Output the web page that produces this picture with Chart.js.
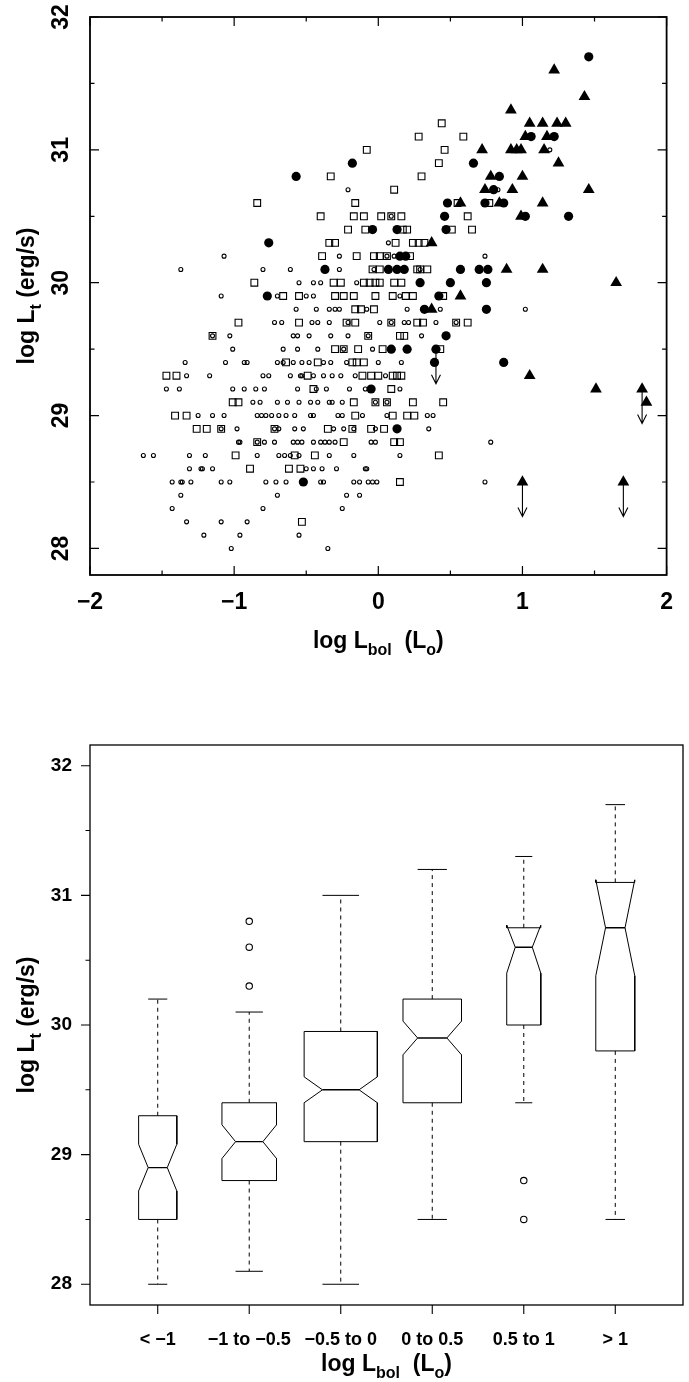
<!DOCTYPE html>
<html><head><meta charset="utf-8">
<script src="https://cdn.jsdelivr.net/npm/chart.js@4.4.1/dist/chart.umd.min.js"></script>
<style>
html,body{margin:0;padding:0;background:#fff;}
#wrap{position:relative;width:689px;height:1382px;overflow:hidden;background:#fff;}
canvas{position:absolute;left:0;display:block;}
</style></head><body>
<div id="wrap">
<canvas id="topc" width="689" height="690" style="top:0"></canvas>
<canvas id="botc" width="689" height="692" style="top:690px"></canvas>
</div>
<script>
const FAM = '"Liberation Sans", Arial, Helvetica, sans-serif';

// ---------- top panel: [log Lbol, log Lt] ----------
const openCircles = [
[1.19,31.0],[-0.21,30.7],[0.83,30.7],[0.09,30.5],[0.07,30.3],
[-1.07,30.2],[-0.27,30.2],[0.06,30.2],[0.11,30.2],[0.74,30.2],
[-1.37,30.1],[-0.80,30.1],[-0.61,30.1],[-0.27,30.1],[-0.03,30.1],[0.29,30.1],
[-0.55,30.0],[-0.45,30.0],[-0.40,30.0],[-0.15,30.0],
[-1.09,29.9],[-0.70,29.9],[-0.50,29.9],[-0.45,29.9],[0.15,29.9],
[-0.57,29.8],[-0.43,29.8],[-0.34,29.8],[-0.30,29.8],[-0.27,29.8],[-0.08,29.8],[0.20,29.8],[0.43,29.8],[1.02,29.8],
[-0.72,29.7],[-0.67,29.7],[-0.46,29.7],[-0.42,29.7],[-0.34,29.7],[-0.21,29.7],[0.01,29.7],[0.09,29.7],[0.18,29.7],[0.21,29.7],[0.40,29.7],[0.54,29.7],
[-1.15,29.6],[-1.03,29.6],[-0.59,29.6],[-0.56,29.6],[-0.48,29.6],[-0.33,29.6],[-0.21,29.6],[-0.07,29.6],[0.30,29.6],
[-1.01,29.5],[-0.66,29.5],[-0.56,29.5],[-0.42,29.5],[-0.24,29.5],[-0.04,29.5],
[-1.34,29.4],[-1.06,29.4],[-0.93,29.4],[-0.91,29.4],[-0.70,29.4],[-0.66,29.4],[-0.59,29.4],[-0.53,29.4],[-0.48,29.4],[-0.38,29.4],[-0.33,29.4],[-0.22,29.4],[0.00,29.4],[0.16,29.4],
[-1.33,29.3],[-1.17,29.3],[-0.80,29.3],[-0.76,29.3],[-0.61,29.3],[-0.54,29.3],[-0.53,29.3],[-0.45,29.3],[-0.38,29.3],[-0.32,29.3],[-0.26,29.3],[-0.16,29.3],[0.05,29.3],
[-1.47,29.2],[-1.38,29.2],[-1.01,29.2],[-0.93,29.2],[-0.85,29.2],[-0.79,29.2],[-0.56,29.2],[-0.43,29.2],[-0.36,29.2],[-0.20,29.2],[-0.09,29.2],[0.15,29.2],
[-0.87,29.1],[-0.82,29.1],[-0.70,29.1],[-0.63,29.1],[-0.55,29.1],[-0.47,29.1],[-0.42,29.1],[-0.34,29.1],[-0.32,29.1],[-0.25,29.1],[-0.02,29.1],[0.06,29.1],
[-1.25,29.0],[-1.15,29.0],[-1.07,29.0],[-0.84,29.0],[-0.81,29.0],[-0.78,29.0],[-0.74,29.0],[-0.69,29.0],[-0.64,29.0],[-0.58,29.0],[-0.47,29.0],[-0.45,29.0],[-0.28,29.0],[-0.25,29.0],[-0.11,29.0],[0.06,29.0],[0.34,29.0],[0.38,29.0],
[-1.09,28.9],[-0.98,28.9],[-0.72,28.9],[-0.69,28.9],[-0.58,28.9],[-0.52,28.9],[-0.31,28.9],[-0.24,28.9],[-0.17,28.9],[-0.02,28.9],[0.35,28.9],
[-0.97,28.8],[-0.96,28.8],[-0.84,28.8],[-0.79,28.8],[-0.72,28.8],[-0.59,28.8],[-0.56,28.8],[-0.53,28.8],[-0.45,28.8],[-0.40,28.8],[-0.37,28.8],[-0.34,28.8],[-0.30,28.8],[-0.05,28.8],[-0.02,28.8],[0.78,28.8],
[-1.63,28.7],[-1.56,28.7],[-1.31,28.7],[-1.20,28.7],[-0.84,28.7],[-0.69,28.7],[-0.65,28.7],[-0.61,28.7],[-0.55,28.7],[-0.34,28.7],[-0.17,28.7],[0.15,28.7],
[-1.31,28.6],[-1.23,28.6],[-1.22,28.6],[-1.15,28.6],[-0.50,28.6],[-0.45,28.6],[-0.39,28.6],[-0.29,28.6],[-0.09,28.6],[-0.08,28.6],
[-1.43,28.5],[-1.37,28.5],[-1.36,28.5],[-1.30,28.5],[-1.09,28.5],[-1.03,28.5],[-0.78,28.5],[-0.71,28.5],[-0.64,28.5],[-0.40,28.5],[-0.38,28.5],[-0.17,28.5],[-0.13,28.5],[-0.07,28.5],[-0.04,28.5],[-0.01,28.5],[0.74,28.5],
[-1.37,28.4],[-0.70,28.4],[-0.22,28.4],[-0.13,28.4],
[-1.43,28.3],[-0.80,28.3],[-0.25,28.3],
[-1.33,28.2],[-1.09,28.2],[-0.91,28.2],
[-1.21,28.1],[-0.96,28.1],[-0.55,28.1],
[-1.02,28.0],[-0.35,28.0]
];
const openSquares = [
[0.44,31.2],[0.28,31.1],[0.59,31.1],[-0.08,31.0],[0.46,31.0],[0.42,30.9],[-0.33,30.8],[0.30,30.8],[0.11,30.7],
[-0.84,30.6],[-0.16,30.6],[0.55,30.6],[0.77,30.6],
[-0.40,30.5],[-0.17,30.5],[-0.10,30.5],[0.02,30.5],[0.09,30.5],[0.16,30.5],[0.62,30.5],
[-0.21,30.4],[-0.09,30.4],[0.17,30.4],[0.20,30.4],[0.51,30.4],[0.65,30.4],
[-0.34,30.3],[-0.30,30.3],[0.12,30.3],[0.24,30.3],[0.28,30.3],[0.32,30.3],
[-0.39,30.2],[-0.15,30.2],[-0.03,30.2],[0.01,30.2],[0.06,30.2],[0.22,30.2],
[-0.04,30.1],[0.01,30.1],[0.27,30.1],[0.29,30.1],[0.34,30.1],
[-0.86,30.0],[-0.31,30.0],[-0.26,30.0],[-0.10,30.0],[-0.06,30.0],[-0.02,30.0],[0.01,30.0],[0.11,30.0],[0.16,30.0],
[-0.66,29.9],[-0.55,29.9],[-0.30,29.9],[-0.24,29.9],[-0.17,29.9],[-0.02,29.9],[0.10,29.9],[0.19,29.9],[0.24,29.9],[0.45,29.9],
[-0.16,29.8],[-0.12,29.8],[-0.03,29.8],
[-0.97,29.7],[-0.55,29.7],[-0.22,29.7],[-0.16,29.7],[0.09,29.7],[0.27,29.7],[0.31,29.7],[0.54,29.7],[0.62,29.7],
[-1.15,29.6],[-0.07,29.6],[0.15,29.6],[0.18,29.6],
[-0.30,29.5],[-0.24,29.5],[-0.14,29.5],[0.03,29.5],[0.43,29.5],
[-0.64,29.4],[-0.42,29.4],[-0.18,29.4],[-0.15,29.4],[-0.10,29.4],
[-1.47,29.3],[-1.40,29.3],[-0.49,29.3],[-0.11,29.3],[-0.05,29.3],[0.00,29.3],[0.10,29.3],[0.13,29.3],[0.16,29.3],
[-0.45,29.2],[0.09,29.2],
[-1.01,29.1],[-0.97,29.1],[-0.17,29.1],[-0.02,29.1],[0.06,29.1],[0.24,29.1],[0.45,29.1],
[-1.41,29.0],[-1.33,29.0],[-0.16,29.0],[0.10,29.0],[0.20,29.0],[0.25,29.0],
[-1.26,28.9],[-1.19,28.9],[-1.09,28.9],[-0.72,28.9],[-0.35,28.9],[-0.18,28.9],[-0.05,28.9],[0.04,28.9],
[-0.84,28.8],[-0.24,28.8],[0.11,28.8],[0.15,28.8],
[-0.99,28.7],[-0.58,28.7],[-0.44,28.7],[0.42,28.7],
[-0.89,28.6],[-0.62,28.6],[-0.54,28.6],
[0.15,28.5],[-0.53,28.2]
];
const filledCircles = [
[1.46,31.7],[1.06,31.1],[1.22,31.1],[-0.18,30.9],[0.66,30.9],[-0.57,30.8],[0.84,30.8],[0.80,30.7],
[0.48,30.6],[0.74,30.6],[0.87,30.6],[0.46,30.5],[1.02,30.5],[1.32,30.5],[-0.04,30.4],[0.13,30.4],[0.47,30.4],
[-0.76,30.3],[0.15,30.2],[0.19,30.2],[-0.37,30.1],[0.07,30.1],[0.13,30.1],[0.18,30.1],[0.57,30.1],[0.70,30.1],[0.76,30.1],
[0.29,30.0],[0.50,30.0],[0.75,30.0],[-0.77,29.9],[0.42,29.9],[0.32,29.8],[0.75,29.8],[0.47,29.6],
[0.09,29.5],[0.20,29.5],[0.40,29.5],[0.39,29.4],[0.87,29.4],[-0.05,29.2],[0.13,28.9],[-0.52,28.5]
];
const filledTriangles = [
[1.22,31.6],[1.43,31.4],[0.92,31.3],[1.05,31.2],[1.14,31.2],[1.24,31.2],[1.30,31.2],[1.02,31.1],[1.17,31.1],
[0.72,31.0],[0.92,31.0],[0.96,31.0],[0.99,31.0],[1.15,31.0],[1.25,30.9],[0.78,30.8],[1.00,30.8],
[0.74,30.7],[0.93,30.7],[1.46,30.7],[0.57,30.6],[0.84,30.6],[1.14,30.6],[0.99,30.5],[0.37,30.3],
[0.89,30.1],[1.14,30.1],[1.65,30.0],[0.57,29.9],[0.37,29.8],[1.05,29.3],[1.51,29.2],[1.83,29.2],[1.86,29.1],
[1.00,28.5],[1.70,28.5]
];
const upperLimits = [[0.40,29.5],[1.00,28.5],[1.70,28.5],[1.83,29.2]];
const topXTicks = [-2,-1,0,1,2];
const topXMinor = [-1.5,-0.5,0.5,1.5];
const topYTicks = [28,29,30,31,32];
const topYMinor = [28.5,29.5,30.5,31.5];

// ---------- bottom panel: notched box plot by log Lbol bin ----------
const categories  = ['< \u22121','\u22121 to \u22120.5','\u22120.5 to 0','0 to 0.5','0.5 to 1','> 1'];
const whiskerLow  = [28.0, 28.1, 28.0, 28.5, 29.4, 28.5];
const quartile1   = [28.5, 28.8, 29.1, 29.4, 30.0, 29.8];
const medians     = [28.9, 29.1, 29.5, 29.9, 30.6, 30.75];
const quartile3   = [29.3, 29.4, 29.95, 30.2, 30.75, 31.1];
const whiskerHigh = [30.2, 30.1, 31.0, 31.2, 31.3, 31.7];
const notchLow    = [28.72, 28.97, 29.40, 29.77, 30.40, 30.38];
const notchHigh   = [29.08, 29.23, 29.60, 30.03, 30.77, 31.12];
const groupN      = [49, 100, 180, 115, 39, 51];
const outlierGroup = [2, 2, 2, 5, 5];
const outlierValue = [30.3, 30.6, 30.8, 28.8, 28.5];
const botYTicks = [28,29,30,31,32];
const botYMinor = [28.5,29.5,30.5,31.5];

// ---------- helpers ----------
const pts = a => a.map(p => ({x: p[0], y: p[1]}));
const fmt = v => (v < 0 ? '\u2212' + Math.abs(v) : String(v));
const xTitleParts = [{t:'log L'},{t:'bol',sub:true},{t:'  (L'},{t:'o',sub:true},{t:')'}];
const yTitleParts = [{t:'log L'},{t:'t',sub:true},{t:' (erg/s)'}];
const ARROW_LEN = 0.26;

function drawRich(ctx, parts, cx, cy, size, rotate) {
  ctx.save();
  ctx.translate(cx, cy);
  if (rotate) ctx.rotate(-Math.PI / 2);
  ctx.fillStyle = '#000';
  ctx.textAlign = 'left';
  ctx.textBaseline = 'alphabetic';
  const sz = p => p.sub ? Math.round(size * 0.7) : size;
  let total = 0;
  const w = parts.map(p => { ctx.font = `bold ${sz(p)}px ${FAM}`; const m = ctx.measureText(p.t).width; total += m; return m; });
  let x = -total / 2;
  parts.forEach((p, i) => {
    ctx.font = `bold ${sz(p)}px ${FAM}`;
    ctx.fillText(p.t, x, p.sub ? size * 0.3 : 0);
    x += w[i];
  });
  ctx.restore();
}

const topDecor = {
  id: 'topDecor',
  afterDatasetsDraw(chart) {
    const {ctx, chartArea: ca, scales: {x, y}} = chart;
    ctx.save();
    ctx.strokeStyle = '#000'; ctx.fillStyle = '#000';
    ctx.lineWidth = 1.1;
    upperLimits.forEach(([lx, ly]) => {
      const px = x.getPixelForValue(lx), y0 = y.getPixelForValue(ly), y1 = y.getPixelForValue(ly - ARROW_LEN);
      ctx.beginPath();
      ctx.moveTo(px, y0); ctx.lineTo(px, y1);
      ctx.moveTo(px - 4.5, y1 - 9); ctx.lineTo(px, y1); ctx.lineTo(px + 4.5, y1 - 9);
      ctx.stroke();
    });
    ctx.lineWidth = 1.8;
    ctx.strokeRect(ca.left, ca.top, ca.right - ca.left, ca.bottom - ca.top);
    ctx.lineWidth = 1.2;
    ctx.beginPath();
    const tx = (v, len) => { const p = x.getPixelForValue(v); ctx.moveTo(p, ca.bottom); ctx.lineTo(p, ca.bottom - len); ctx.moveTo(p, ca.top); ctx.lineTo(p, ca.top + len); };
    const ty = (v, len) => { const p = y.getPixelForValue(v); ctx.moveTo(ca.left, p); ctx.lineTo(ca.left + len, p); ctx.moveTo(ca.right, p); ctx.lineTo(ca.right - len, p); };
    topXTicks.forEach(v => tx(v, 9)); topXMinor.forEach(v => tx(v, 4.5));
    topYTicks.forEach(v => ty(v, 9)); topYMinor.forEach(v => ty(v, 4.5));
    ctx.stroke();
    ctx.font = `bold 23px ${FAM}`; ctx.textAlign = 'center'; ctx.textBaseline = 'alphabetic';
    topYTicks.forEach(v => {
      const p = y.getPixelForValue(v);
      ctx.save(); ctx.translate(68, p); ctx.rotate(-Math.PI / 2); ctx.fillText(String(v), 0, 0); ctx.restore();
    });
    drawRich(ctx, xTitleParts, (ca.left + ca.right) / 2, 648, 23, false);
    drawRich(ctx, yTitleParts, 34, (ca.top + ca.bottom) / 2, 23, true);
    ctx.restore();
  }
};

new Chart(document.getElementById('topc'), {
  type: 'scatter',
  data: { datasets: [
    {label:'triangles', data: pts(filledTriangles), pointStyle:'triangle', pointRadius:6.8, backgroundColor:'#000', borderColor:'#000', borderWidth:0},
    {label:'filled circles', data: pts(filledCircles), pointStyle:'circle', pointRadius:4.6, backgroundColor:'#000', borderColor:'#000', borderWidth:0},
    {label:'open squares', data: pts(openSquares), pointStyle:'rect', pointRadius:4.8, backgroundColor:'rgba(0,0,0,0)', borderColor:'#000', borderWidth:1.1},
    {label:'open circles', data: pts(openCircles), pointStyle:'circle', pointRadius:2.0, backgroundColor:'rgba(0,0,0,0)', borderColor:'#000', borderWidth:1.1}
  ]},
  options: {
    responsive: false, animation: false, events: [],
    layout: { padding: { top: 17, right: 6, left: 0, bottom: 0 } },
    plugins: { legend: { display: false }, tooltip: { enabled: false } },
    scales: {
      x: { type: 'linear', min: -2, max: 2,
        afterBuildTicks: s => { s.ticks = topXTicks.map(v => ({value: v})); },
        afterFit: s => { s.height = 115; },
        grid: { display: false, drawTicks: false }, border: { display: false },
        ticks: { color: '#000', font: { family: FAM, size: 23, weight: 'bold', lineHeight: 1 }, padding: 16, autoSkip: false, maxRotation: 0, minRotation: 0, callback: v => fmt(v) } },
      y: { type: 'linear', min: 27.8, max: 32,
        afterBuildTicks: s => { s.ticks = topYTicks.map(v => ({value: v})); },
        afterFit: s => { s.width = 90; },
        grid: { display: false, drawTicks: false }, border: { display: false },
        ticks: { display: false } }
    }
  },
  plugins: [topDecor]
});

// ---------- bottom chart ----------
const nMax = Math.max(...groupN);
const boxHalf = groupN.map(n => 0.4 * Math.sqrt(n / nMax));
const outlineData = [], medianData = [], whiskerData = [], stapleData = [];
categories.forEach((c, i) => {
  const cx = i + 1, w = boxHalf[i], wn = w / 2;
  outlineData.push(
    {x: cx - w, y: quartile1[i]}, {x: cx - w, y: notchLow[i]}, {x: cx - wn, y: medians[i]}, {x: cx - w, y: notchHigh[i]},
    {x: cx - w, y: quartile3[i]}, {x: cx + w, y: quartile3[i]}, {x: cx + w, y: notchHigh[i]}, {x: cx + wn, y: medians[i]},
    {x: cx + w, y: notchLow[i]}, {x: cx + w, y: quartile1[i]}, {x: cx - w, y: quartile1[i]}, {x: cx, y: null});
  medianData.push({x: cx - wn, y: medians[i]}, {x: cx + wn, y: medians[i]}, {x: cx, y: null});
  whiskerData.push({x: cx, y: quartile3[i]}, {x: cx, y: whiskerHigh[i]}, {x: cx, y: null},
                   {x: cx, y: quartile1[i]}, {x: cx, y: whiskerLow[i]}, {x: cx, y: null});
  stapleData.push({x: cx - wn, y: whiskerHigh[i]}, {x: cx + wn, y: whiskerHigh[i]}, {x: cx, y: null},
                  {x: cx - wn, y: whiskerLow[i]}, {x: cx + wn, y: whiskerLow[i]}, {x: cx, y: null});
});
const outlierData = outlierGroup.map((g, i) => ({x: g, y: outlierValue[i]}));

const lineDs = (label, data, extra) => Object.assign({label, data, showLine: true, spanGaps: false, pointRadius: 0,
  borderColor: '#000', borderWidth: 1, fill: false, tension: 0, borderJoinStyle: 'miter', borderCapStyle: 'butt'}, extra || {});

const botDecor = {
  id: 'botDecor',
  afterDraw(chart) {
    const {ctx, chartArea: ca, scales: {x, y}} = chart;
    ctx.save();
    ctx.strokeStyle = '#000';
    ctx.lineWidth = 1.3;
    ctx.strokeRect(ca.left, ca.top, ca.right - ca.left, ca.bottom - ca.top);
    ctx.lineWidth = 1.1;
    ctx.beginPath();
    botYTicks.forEach(v => { const p = y.getPixelForValue(v); ctx.moveTo(ca.left, p); ctx.lineTo(ca.left - 9, p); });
    botYMinor.forEach(v => { const p = y.getPixelForValue(v); ctx.moveTo(ca.left, p); ctx.lineTo(ca.left - 4.5, p); });
    categories.forEach((c, i) => { const p = x.getPixelForValue(i + 1); ctx.moveTo(p, ca.bottom); ctx.lineTo(p, ca.bottom + 9); });
    ctx.stroke();
    drawRich(ctx, xTitleParts, (ca.left + ca.right) / 2, 681, 23, false);
    drawRich(ctx, yTitleParts, 34, (ca.top + ca.bottom) / 2, 23, true);
    ctx.restore();
  }
};

new Chart(document.getElementById('botc'), {
  type: 'scatter',
  data: { datasets: [
    lineDs('boxes', outlineData),
    lineDs('medians', medianData, {borderWidth: 1.4}),
    lineDs('whiskers', whiskerData, {borderDash: [4, 4]}),
    lineDs('staples', stapleData),
    {label: 'outliers', data: outlierData, pointStyle: 'circle', pointRadius: 3.2, backgroundColor: 'rgba(0,0,0,0)', borderColor: '#000', borderWidth: 1.1}
  ]},
  options: {
    responsive: false, animation: false, events: [],
    layout: { padding: { top: 55, right: 6, left: 0, bottom: 0 } },
    plugins: { legend: { display: false }, tooltip: { enabled: false } },
    scales: {
      x: { type: 'linear', min: 0.26, max: 6.74,
        afterBuildTicks: s => { s.ticks = categories.map((c, i) => ({value: i + 1})); },
        afterFit: s => { s.height = 77; },
        grid: { display: false, drawTicks: false }, border: { display: false },
        ticks: { color: '#000', font: { family: FAM, size: 18, weight: 'bold', lineHeight: 1 }, padding: 26, autoSkip: false, maxRotation: 0, minRotation: 0,
          callback: v => categories[Math.round(v) - 1] } },
      y: { type: 'linear', min: 27.84, max: 32.16,
        afterBuildTicks: s => { s.ticks = botYTicks.map(v => ({value: v})); },
        afterFit: s => { s.width = 90; },
        grid: { display: false, drawTicks: false }, border: { display: false },
        ticks: { color: '#000', font: { family: FAM, size: 19, weight: 'bold', lineHeight: 1 }, padding: 18, callback: v => String(v) } }
    }
  },
  plugins: [botDecor]
});
</script>
</body></html>
